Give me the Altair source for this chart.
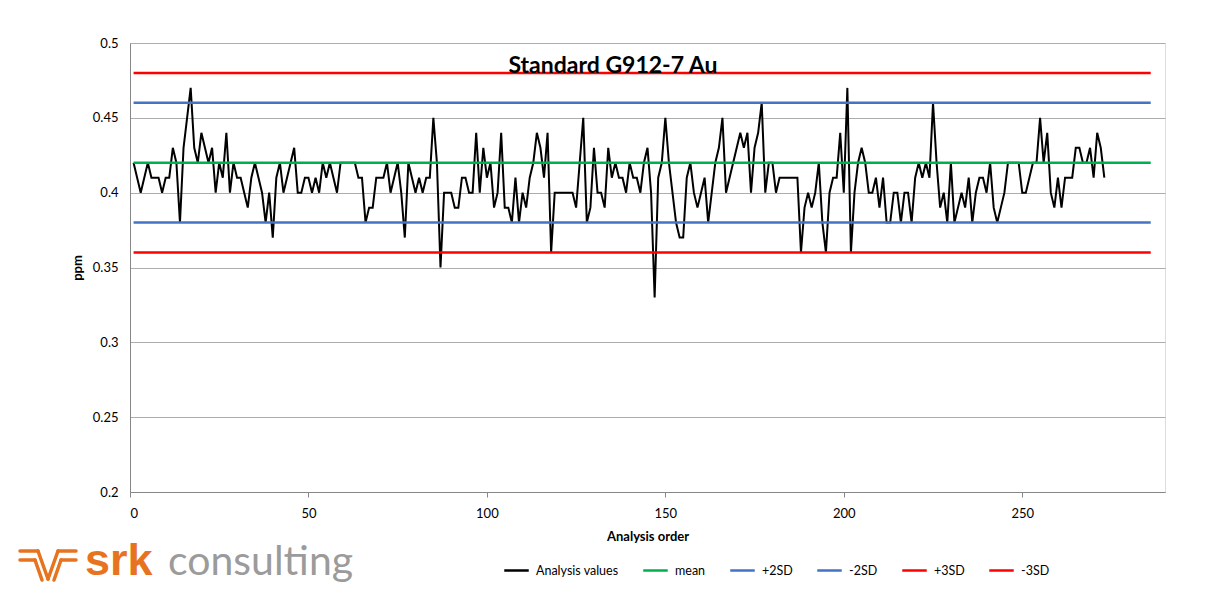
import altair as alt
import pandas as pd

# ---- data ----
values = [
    0.42, 0.41, 0.40, 0.41, 0.42, 0.41, 0.41, 0.41, 0.40, 0.41,
    0.41, 0.43, 0.42, 0.38, 0.43, 0.45, 0.47, 0.43, 0.42, 0.44,
    0.43, 0.42, 0.43, 0.40, 0.42, 0.41, 0.44, 0.40, 0.42, 0.41,
    0.41, 0.40, 0.39, 0.41, 0.42, 0.41, 0.40, 0.38, 0.40, 0.37,
    0.41, 0.42, 0.40, 0.41, 0.42, 0.43, 0.40, 0.40, 0.41, 0.41,
    0.40, 0.41, 0.40, 0.42, 0.41, 0.42, 0.41, 0.40, 0.42, 0.42,
    0.42, 0.42, 0.42, 0.41, 0.41, 0.38, 0.39, 0.39, 0.41, 0.41,
    0.41, 0.42, 0.40, 0.41, 0.42, 0.40, 0.37, 0.42, 0.41, 0.40,
    0.41, 0.40, 0.41, 0.41, 0.45, 0.42, 0.35, 0.40, 0.40, 0.40,
    0.39, 0.39, 0.41, 0.41, 0.40, 0.40, 0.44, 0.40, 0.43, 0.41,
    0.42, 0.39, 0.40, 0.44, 0.39, 0.39, 0.38, 0.41, 0.38, 0.40,
    0.39, 0.41, 0.42, 0.44, 0.43, 0.41, 0.44, 0.36, 0.40, 0.40,
    0.40, 0.40, 0.40, 0.40, 0.39, 0.42, 0.45, 0.38, 0.39, 0.43,
    0.40, 0.40, 0.39, 0.43, 0.41, 0.42, 0.41, 0.41, 0.40, 0.42,
    0.41, 0.41, 0.40, 0.42, 0.43, 0.40, 0.33, 0.41, 0.42, 0.45,
    0.42, 0.40, 0.38, 0.37, 0.37, 0.41, 0.42, 0.40, 0.39, 0.40,
    0.41, 0.38, 0.40, 0.42, 0.43, 0.45, 0.40, 0.41, 0.42, 0.43,
    0.44, 0.43, 0.44, 0.40, 0.43, 0.44, 0.46, 0.40, 0.42, 0.42,
    0.40, 0.41, 0.41, 0.41, 0.41, 0.41, 0.41, 0.36, 0.39, 0.40,
    0.39, 0.40, 0.42, 0.38, 0.36, 0.40, 0.41, 0.41, 0.44, 0.40,
    0.47, 0.36, 0.40, 0.42, 0.43, 0.42, 0.40, 0.40, 0.41, 0.39,
    0.41, 0.38, 0.38, 0.40, 0.40, 0.38, 0.40, 0.40, 0.38, 0.41,
    0.42, 0.41, 0.42, 0.41, 0.46, 0.42, 0.39, 0.40, 0.38, 0.42,
    0.38, 0.39, 0.40, 0.39, 0.41, 0.38, 0.40, 0.41, 0.41, 0.40,
    0.42, 0.39, 0.38, 0.39, 0.40, 0.42, 0.42, 0.42, 0.42, 0.40,
    0.40, 0.41, 0.42, 0.42, 0.45, 0.42, 0.44, 0.40, 0.39, 0.41,
    0.39, 0.41, 0.41, 0.41, 0.43, 0.43, 0.42, 0.42, 0.43, 0.41,
    0.44, 0.43, 0.41,
]
order = list(range(1, len(values) + 1))

series_names = ["Analysis values", "mean", "+2SD", "-2SD", "+3SD", "-3SD"]
series_colors = ["#000000", "#00B050", "#4472C4", "#4472C4", "#FF0000", "#FF0000"]
ref_names = ["mean", "+2SD", "-2SD", "+3SD", "-3SD"]
ref_values = [0.42, 0.46, 0.38, 0.48, 0.36]
ref_start = 1
ref_end = 286

x_ticks = [0, 50, 100, 150, 200, 250]
y_ticks = [0.2, 0.25, 0.3, 0.35, 0.4, 0.45, 0.5]

chart_title = "Standard G912-7 Au"

FONT = "Lato"
W, H = 1035, 449

df = pd.DataFrame({"order": order, "value": values,
                   "series": ["Analysis values"] * len(values)})
ref_df = pd.DataFrame({"series": ref_names, "value": ref_values,
                       "xs": [ref_start] * len(ref_names),
                       "xe": [ref_end] * len(ref_names)})

color = alt.Color(
    "series:N",
    scale=alt.Scale(domain=series_names, range=series_colors),
    legend=alt.Legend(
        title=None, orient="none", legendX=373, legendY=514,
        direction="horizontal", columns=6, symbolType="stroke",
        symbolSize=600, symbolStrokeWidth=2.5, labelFont=FONT,
        labelFontSize=12.5, labelColor="#000000", columnPadding=19,
        labelOffset=6,
    ),
)

xs = alt.Scale(domain=[0, 290], nice=False, zero=False)
ys = alt.Scale(domain=[0.2, 0.5], nice=False, zero=False)

x_axis = alt.Axis(values=x_ticks, title="Analysis order", grid=False,
                  tickSize=5, tickColor="#868686", domainColor="#868686",
                  labelPadding=10, titlePadding=10, labelFontSize=13,
                  titleFontSize=13, labelFont=FONT, titleFont=FONT,
                  titleFontWeight="bold", labelColor="#000000", titleColor="#000000")
y_axis = alt.Axis(values=y_ticks, title="ppm", format=".2~f", grid=True,
                  gridColor="#ADADAD", gridWidth=1, ticks=False,
                  domainColor="#868686", labelPadding=12, titlePadding=8,
                  labelFontSize=13, titleFontSize=13, labelFont=FONT,
                  titleFont=FONT, titleFontWeight="bold",
                  labelColor="#000000", titleColor="#000000")

line = alt.Chart(df).mark_line(strokeWidth=2, interpolate="linear").encode(
    x=alt.X("order:Q", scale=xs, axis=x_axis),
    y=alt.Y("value:Q", scale=ys, axis=y_axis),
    color=color,
)

rules = alt.Chart(ref_df).mark_rule(strokeWidth=2.5).encode(
    x=alt.X("xs:Q", scale=xs),
    x2="xe:Q",
    y=alt.Y("value:Q", scale=ys),
    color=color,
)

one = alt.Data(values=[{}])
title_mark = alt.Chart(one).mark_text(
    font=FONT, fontSize=23, fontWeight="bold", color="#000000",
    align="center", baseline="alphabetic").encode(
    x=alt.value(483), y=alt.value(30), text=alt.value(chart_title))
srk = alt.Chart(one).mark_text(
    font="Liberation Sans", fontSize=45, fontWeight="bold", color="#E8731E",
    align="left", baseline="alphabetic").encode(
    x=alt.value(-45), y=alt.value(532), text=alt.value("srk"))
consulting = alt.Chart(one).mark_text(
    font=FONT, fontSize=41, fontWeight="normal", color="#9B9B9B",
    align="left", baseline="alphabetic").encode(
    x=alt.value(38), y=alt.value(532), text=alt.value("consulting"))

icon_segments = [
    (-110, 508, -92, 508), (-92, 508, -82, 536), (-82, 536, -72, 508), (-72, 508, -54, 508),
    (-110, 517, -95, 517), (-95, 517, -88, 537), (-76, 537, -69, 517), (-69, 517, -54, 517),
]
icons = [
    alt.Chart(one).mark_rule(color="#E8731E", strokeWidth=3.5, strokeCap="round").encode(
        x=alt.value(a), y=alt.value(b), x2=alt.value(c), y2=alt.value(d))
    for a, b, c, d in icon_segments
]

chart = alt.layer(line, rules, title_mark, srk, consulting, *icons).properties(
    width=W, height=H,
    autosize=alt.AutoSizeParams(type="none"),
    padding={"left": 122, "top": 35, "right": 34, "bottom": 97},
).configure_view(stroke=None).configure(background="#FFFFFF")

chart.save("out.html", embed_options={"renderer": "svg", "actions": False})
